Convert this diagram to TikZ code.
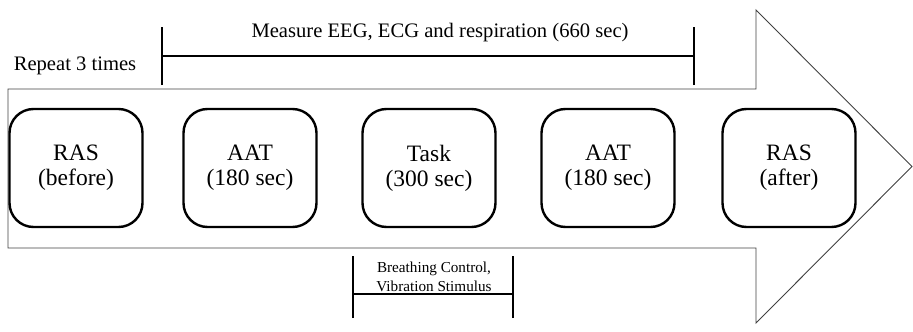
\documentclass[tikz,border=0pt]{standalone}
\usepackage{fontspec}
\setmainfont{Liberation Serif}
\begin{document}
\begin{tikzpicture}[x=1pt,y=-1pt,
  stage/.style={draw=black,line width=2.4pt,rounded corners=24pt,minimum width=133pt,minimum height=118pt,align=center,font=\fontsize{23.5}{25}\selectfont,inner sep=0pt},
  bracket/.style={line width=2pt,black},
  lbl/.style={font=\fontsize{20.6}{22}\selectfont,inner sep=0pt,anchor=base},
  small/.style={font=\fontsize{15.2}{19}\selectfont,inner sep=0pt,align=center}]
\useasboundingbox (0,0) rectangle (913,332);
% big arrow
\draw[line width=0.9pt,draw=black!75] (8,89) -- (756,89) -- (756,10) -- (912,166.5) -- (756,323) -- (756,248) -- (8,248) -- cycle;
% stages
\node[stage] (s1) at (76,168) {RAS\\(before)};
\node[stage] (s2) at (250,168) {AAT\\(180 sec)};
\node[stage] (s3) at (429,168) {Task\\(300 sec)};
\node[stage] (s4) at (608,168) {AAT\\(180 sec)};
\node[stage] (s5) at (789,168) {RAS\\(after)};
% measure bracket
\coordinate (mL) at (162,56);
\coordinate (mR) at (694,56);
\draw[bracket] (mL) -- (mR);
\draw[bracket] ([yshift=-29pt]mL) -- ([yshift=29pt]mL);
\draw[bracket] ([yshift=-29pt]mR) -- ([yshift=29pt]mR);
\node[lbl] (meas) at (440,37) {Measure EEG, ECG and respiration (660 sec)};
\node[lbl] (rep) at (75,70) {Repeat 3 times};
% bottom bracket
\coordinate (bL) at (353,294);
\coordinate (bR) at (513,294);
\draw[bracket] (bL) -- (bR);
\draw[bracket] ([yshift=-24pt]bL) -- ([yshift=38pt]bL);
\draw[bracket] ([yshift=-24pt]bR) -- ([yshift=38pt]bR);
\node[small] (bc) at (434,276.5) {Breathing Control,\\Vibration Stimulus};
\end{tikzpicture}
\end{document}
